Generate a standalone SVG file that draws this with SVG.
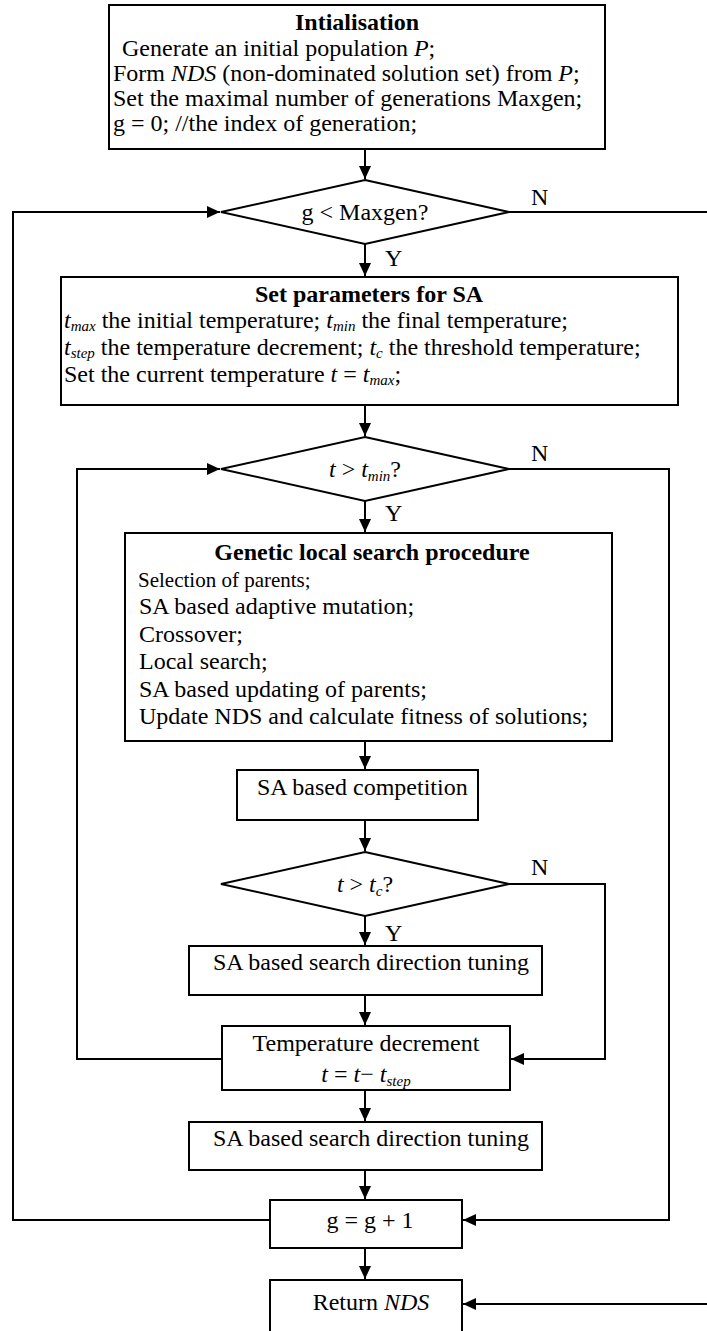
<svg xmlns="http://www.w3.org/2000/svg" width="707" height="1331" viewBox="0 0 707 1331">
<style>
.t{font-family:"Liberation Serif","Times New Roman",serif;font-size:24px;fill:#000}
.b{font-weight:bold}
.i{font-style:italic}
.s{font-size:15px}
.box{fill:#fff;stroke:#000;stroke-width:2}
.ln{fill:none;stroke:#000;stroke-width:2}
</style>
<defs>
<marker id="ah" markerUnits="userSpaceOnUse" markerWidth="14" markerHeight="12" refX="13" refY="6" orient="auto">
<path d="M0,0 L13,6 L0,12 z" fill="#000"/>
</marker>
</defs>
<rect width="707" height="1331" fill="#fff"/>
<g id="connectors">
<path class="ln" d="M365,149 V179" marker-end="url(#ah)"/>
<path class="ln" d="M365,244 V276" marker-end="url(#ah)"/>
<path class="ln" d="M365,405 V436" marker-end="url(#ah)"/>
<path class="ln" d="M365,501 V532" marker-end="url(#ah)"/>
<path class="ln" d="M365,741 V769" marker-end="url(#ah)"/>
<path class="ln" d="M365,820 V851" marker-end="url(#ah)"/>
<path class="ln" d="M365,916 V945" marker-end="url(#ah)"/>
<path class="ln" d="M365,995 V1025" marker-end="url(#ah)"/>
<path class="ln" d="M365,1090 V1121" marker-end="url(#ah)"/>
<path class="ln" d="M365,1170 V1199" marker-end="url(#ah)"/>
<path class="ln" d="M365,1248 V1279" marker-end="url(#ah)"/>
<path class="ln" d="M270,1220 H13 V212 H220" marker-end="url(#ah)"/>
<path class="ln" d="M509,212 H709 V1304 H463" marker-end="url(#ah)"/>
<path class="ln" d="M222,1059 H77 V469 H220" marker-end="url(#ah)"/>
<path class="ln" d="M509,469 H669 V1220 H463" marker-end="url(#ah)"/>
<path class="ln" d="M509,884 H605 V1059 H511" marker-end="url(#ah)"/>
<text class="t" x="531" y="205">N</text>
<text class="t" x="385" y="266">Y</text>
<text class="t" x="531" y="461">N</text>
<text class="t" x="385" y="521">Y</text>
<text class="t" x="531" y="875">N</text>
<text class="t" x="385" y="941">Y</text>
</g>
<g id="init">
<rect class="box" x="109" y="5" width="496" height="144"/>
<text class="t b" x="357" y="30" text-anchor="middle">Intialisation</text>
<text class="t" x="122" y="56">Generate an initial population <tspan class="i">P</tspan>;</text>
<text class="t" x="113" y="81">Form <tspan class="i">NDS</tspan> (non-dominated solution set) from <tspan class="i">P</tspan>;</text>
<text class="t" x="113" y="106">Set the maximal number of generations Maxgen;</text>
<text class="t" x="113" y="131">g = 0; //the index of generation;</text>
</g>
<g id="d1">
<polygon class="box" points="365,180 509,212 365,244 221,212"/>
<text class="t" x="365" y="220" text-anchor="middle">g &lt; Maxgen?</text>
</g>
<g id="sa">
<rect class="box" x="61" y="277" width="617" height="128"/>
<text class="t b" x="369" y="302" text-anchor="middle">Set parameters for SA</text>
<text class="t" x="64" y="328"><tspan class="i">t</tspan><tspan class="i s" dy="3">max</tspan><tspan dy="-3"> the initial temperature; </tspan><tspan class="i">t</tspan><tspan class="i s" dy="3">min</tspan><tspan dy="-3"> the final temperature;</tspan></text>
<text class="t" x="64" y="355"><tspan class="i">t</tspan><tspan class="i s" dy="3">step</tspan><tspan dy="-3"> the temperature decrement; </tspan><tspan class="i">t</tspan><tspan class="i s" dy="3">c</tspan><tspan dy="-3"> the threshold temperature;</tspan></text>
<text class="t" x="64" y="382">Set the current temperature <tspan class="i">t</tspan> = <tspan class="i">t</tspan><tspan class="i s" dy="3">max</tspan><tspan dy="-3">;</tspan></text>
</g>
<g id="d2">
<polygon class="box" points="365,437 509,469 365,501 221,469"/>
<text class="t" x="365" y="477" text-anchor="middle"><tspan class="i">t</tspan> &gt; <tspan class="i">t</tspan><tspan class="i s" dy="4">min</tspan><tspan dy="-4">?</tspan></text>
</g>
<g id="gls">
<rect class="box" x="125" y="533" width="487" height="208"/>
<text class="t b" x="372" y="560" text-anchor="middle">Genetic local search procedure</text>
<text class="t" x="138" y="587" style="font-size:21px">Selection of parents;</text>
<text class="t" x="139" y="614">SA based adaptive mutation;</text>
<text class="t" x="139" y="642">Crossover;</text>
<text class="t" x="139" y="669">Local search;</text>
<text class="t" x="139" y="697">SA based updating of parents;</text>
<text class="t" x="139" y="724">Update NDS and calculate fitness of solutions;</text>
</g>
<g id="comp">
<rect class="box" x="237" y="770" width="241" height="50"/>
<text class="t" x="257" y="795">SA based competition</text>
</g>
<g id="d3">
<polygon class="box" points="365,852 509,884 365,916 221,884"/>
<text class="t" x="365" y="892" text-anchor="middle"><tspan class="i">t</tspan> &gt; <tspan class="i">t</tspan><tspan class="i s" dy="4">c</tspan><tspan dy="-4">?</tspan></text>
</g>
<g id="tune1">
<rect class="box" x="189" y="946" width="353" height="49"/>
<text class="t" x="213" y="970">SA based search direction tuning</text>
</g>
<g id="tdec">
<rect class="box" x="222" y="1026" width="288" height="64"/>
<text class="t" x="366" y="1051" text-anchor="middle">Temperature decrement</text>
<text class="t" x="366" y="1082" text-anchor="middle"><tspan class="i">t</tspan> = <tspan class="i">t</tspan>− <tspan class="i">t</tspan><tspan class="i s" dy="4">step</tspan></text>
</g>
<g id="tune2">
<rect class="box" x="189" y="1122" width="353" height="48"/>
<text class="t" x="213" y="1146">SA based search direction tuning</text>
</g>
<g id="ginc">
<rect class="box" x="270" y="1200" width="192" height="48"/>
<text class="t" x="370" y="1228" text-anchor="middle">g = g + 1</text>
</g>
<g id="ret">
<rect class="box" x="270" y="1280" width="192" height="60"/>
<text class="t" x="371" y="1310" text-anchor="middle">Return <tspan class="i">NDS</tspan></text>
</g>
</svg>
